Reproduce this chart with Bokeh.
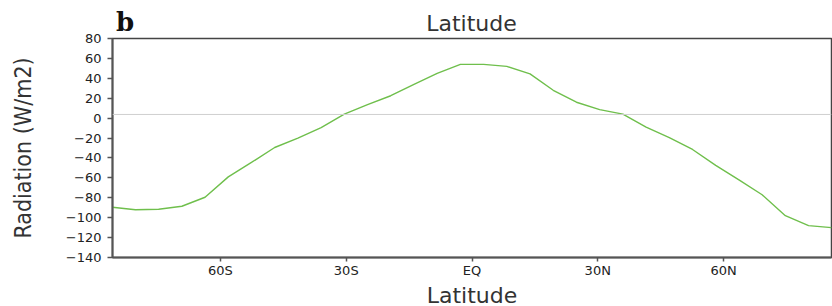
from bokeh.plotting import figure
from bokeh.models import Range1d, FixedTicker, Span, Div
from bokeh.layouts import column
from bokeh.embed import file_html
from bokeh.resources import INLINE

# T21 Gaussian latitudes (south to north)
lat = [-85.76, -80.29, -74.75, -69.21, -63.68, -58.14, -52.61, -47.07,
       -41.53, -35.99, -30.46, -24.92, -19.38, -13.84, -8.31, -2.77,
       2.77, 8.31, 13.84, 19.38, 24.92, 30.46, 35.99, 41.53,
       47.07, 52.61, 58.14, 63.68, 69.21, 74.75, 80.29, 85.76]
radiation = [-89.5, -92.0, -91.5, -88.5, -79.5, -59.0, -44.5, -29.5,
             -20.0, -9.5, 4.0, 13.5, 22.5, 34.0, 45.0, 54.0,
             54.0, 52.0, 44.5, 28.0, 16.0, 8.5, 4.0, -9.0,
             -19.5, -31.5, -47.5, -62.0, -77.0, -98.0, -108.0, -110.0]
ref_level = 3.7

x_ticks = [-60, -30, 0, 30, 60]
x_tick_labels = ["60S", "30S", "EQ", "30N", "60N"]
y_ticks = [80, 60, 40, 20, 0, -20, -40, -60, -80, -100, -120, -140]
y_tick_labels = ["80", "60", "40", "20", "0", "\u221220", "\u221240", "\u221260",
                 "\u221280", "\u2212100", "\u2212120", "\u2212140"]
panel_letter = "b"
upper_axis_title = "Latitude"

header = Div(
    width=832, height=30, margin=0,
    text=(
        '<div style="position:relative;width:832px;height:30px;margin:0;padding:0;overflow:visible;">'
        '<span style="position:absolute;left:116px;top:7px;line-height:normal;'
        "font:bold 26px 'DejaVu Serif';color:#111;\">" + panel_letter + '</span>'
        '<span style="position:absolute;left:0;width:943px;top:11px;text-align:center;'
        "line-height:normal;font:22px 'DejaVu Sans';color:#333;\">" + upper_axis_title + '</span>'
        '</div>'
    ),
)

p = figure(frame_width=719, frame_height=219, output_backend="svg",
           toolbar_location=None, title_location=None,
           x_range=Range1d(lat[0], lat[-1]), y_range=Range1d(-140, 80),
           min_border_left=112, min_border_right=1, min_border_top=8,
           min_border_bottom=48, margin=0)
p.background_fill_color = "white"
p.border_fill_color = None
p.xgrid.visible = False
p.ygrid.visible = False
p.outline_line_color = "#444444"
p.outline_line_width = 1.5

p.add_layout(Span(location=ref_level, dimension="width",
                  line_color="#cfcfcf", line_width=1))
p.line(lat, radiation, line_color="#6fbf4c", line_width=1.4)

for ax in (p.xaxis[0], p.yaxis[0]):
    ax.axis_line_color = "#555555"
    ax.axis_line_width = 2
    ax.major_tick_line_color = "#555555"
    ax.major_tick_line_width = 1.5
    ax.minor_tick_line_color = None
    ax.major_label_text_font = "DejaVu Sans"
    ax.major_label_text_font_size = "13px"
    ax.major_label_text_color = "#222222"

p.xaxis.ticker = FixedTicker(ticks=x_ticks)
p.xaxis.major_label_overrides = dict(zip(x_ticks, x_tick_labels))
p.xaxis.major_tick_out = 4
p.xaxis.major_tick_in = 0
p.xaxis.major_label_standoff = 1
p.xaxis.axis_label = "Latitude"
p.xaxis.axis_label_text_font = "DejaVu Sans"
p.xaxis.axis_label_text_font_style = "normal"
p.xaxis.axis_label_text_font_size = "22px"
p.xaxis.axis_label_text_color = "#333333"
p.xaxis.axis_label_standoff = 2

p.yaxis.ticker = FixedTicker(ticks=y_ticks)
p.yaxis.major_label_overrides = dict(zip(y_ticks, y_tick_labels))
p.yaxis.major_tick_out = 5
p.yaxis.major_tick_in = 0
p.yaxis.major_label_standoff = 6
p.yaxis.axis_label = "Radiation (W/m2)"
p.yaxis.axis_label_text_font = "DejaVu Sans Condensed"
p.yaxis.axis_label_text_font_style = "normal"
p.yaxis.axis_label_text_font_size = "23px"
p.yaxis.axis_label_text_color = "#333333"
p.yaxis.axis_label_standoff = 27

layout = column(header, p, spacing=0)

open("out.html", "w").write(file_html(layout, INLINE))
